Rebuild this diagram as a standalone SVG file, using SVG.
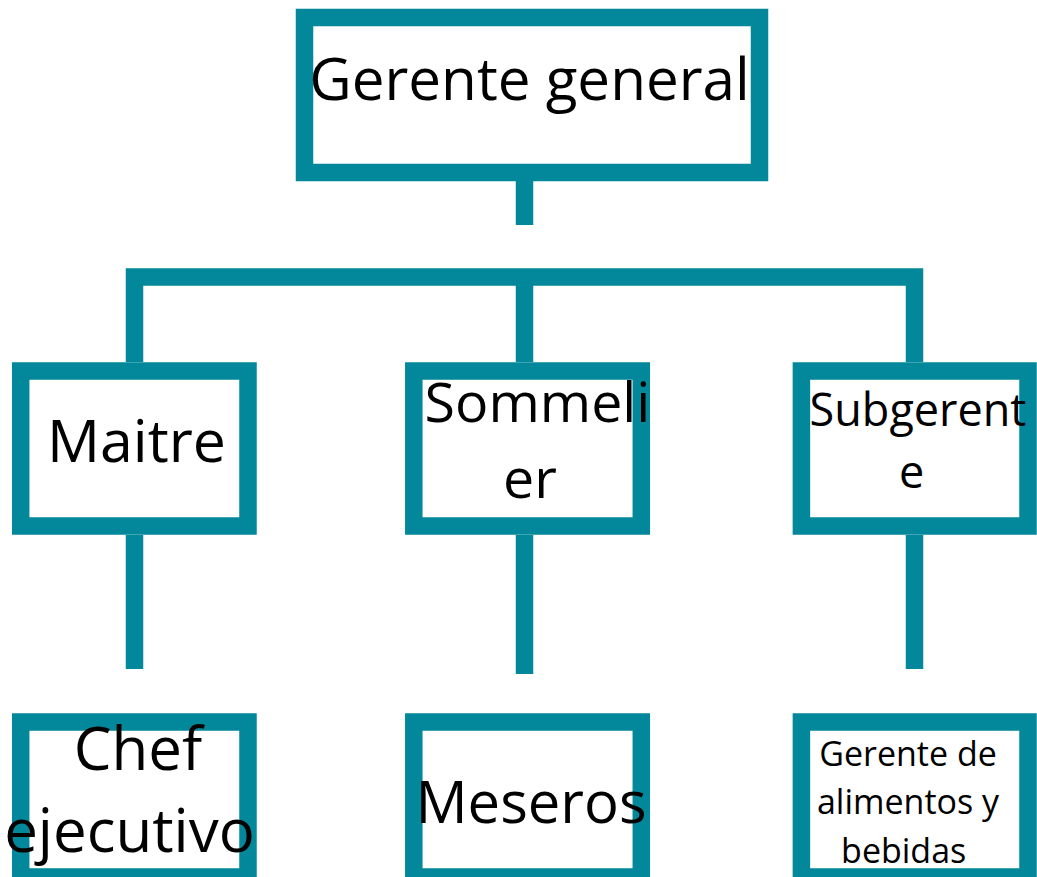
<svg xmlns="http://www.w3.org/2000/svg" width="1037" height="877" viewBox="0 0 1037 877">
<style>
.box{fill:#ffffff;stroke:#02889a;stroke-width:17.5}
.con{fill:none;stroke:#02889a;stroke-width:17.5;stroke-linejoin:miter;stroke-linecap:butt}
text{font-family:"Open Sans","Noto Sans",sans-serif;fill:#000000;text-anchor:middle}
</style>
<rect width="1037" height="877" fill="#ffffff"/>
<g id="connectors">
<path class="con" d="M524.5,181V225"/>
<path class="con" d="M134.5,362V277H914.5V362"/>
<path class="con" d="M524.5,277V362"/>
<path class="con" d="M134.5,535V669"/>
<path class="con" d="M524.5,535V674"/>
<path class="con" d="M914.5,535V669"/>
</g>
<g id="gerente-general">
<rect class="box" x="304.5" y="17.5" width="455" height="155"/>
<text x="529.5" y="99.5" font-size="58.4">Gerente general</text>
</g>
<g id="maitre">
<rect class="box" x="20.7" y="371" width="227.3" height="155"/>
<text x="136.5" y="462" font-size="59">Maitre</text>
</g>
<g id="sommelier">
<rect class="box" x="413.8" y="371" width="227.5" height="155"/>
<text x="537.5" y="422" font-size="55.5">Sommeli</text>
<text x="530" y="498" font-size="55.5">er</text>
</g>
<g id="subgerente">
<rect class="box" x="801.4" y="371" width="226.6" height="155"/>
<text x="918" y="425.5" font-size="45">Subgerent</text>
<text x="911.7" y="487.5" font-size="45">e</text>
</g>
<g id="chef">
<rect class="box" x="20.7" y="722" width="227.3" height="155"/>
<text x="138" y="770" font-size="60">Chef</text>
<text x="129.5" y="851.5" font-size="60">ejecutivo</text>
</g>
<g id="meseros">
<rect class="box" x="413.8" y="722" width="227.5" height="155"/>
<text x="531" y="823" font-size="58">Meseros</text>
</g>
<g id="gerente-alimentos">
<rect class="box" x="801.4" y="722" width="226.6" height="155"/>
<text x="908" y="766" font-size="34">Gerente de</text>
<text x="908" y="814" font-size="34">alimentos y</text>
<text x="903.7" y="862.5" font-size="34">bebidas</text>
</g>
</svg>
